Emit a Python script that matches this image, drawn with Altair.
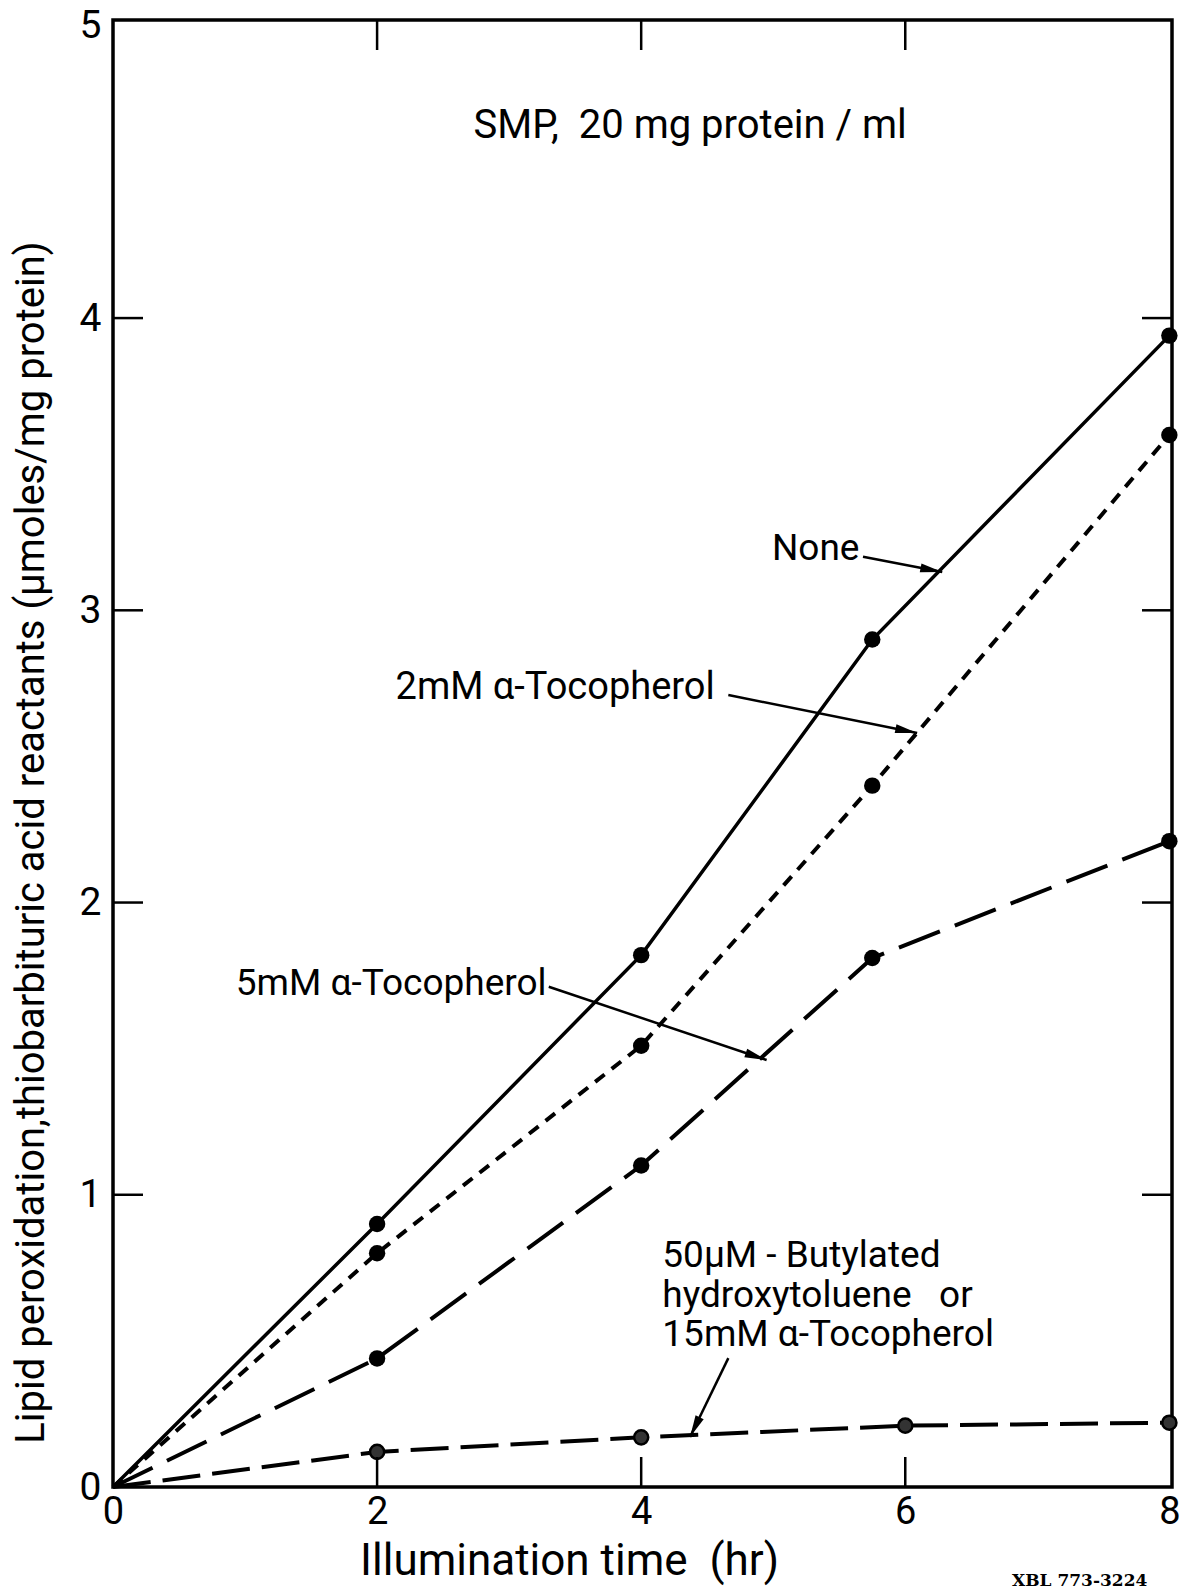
import math

import altair as alt
import pandas as pd

# Illumination times (hr) and TBA-reactant readings for each treatment
hours_main = [0, 2, 4, 5.75, 8]
hours_bht = [0, 2, 4, 6, 8]
none_vals = [0.0, 0.90, 1.82, 2.90, 3.94]
toco2_vals = [0.0, 0.80, 1.51, 2.40, 3.60]
toco5_vals = [0.0, 0.44, 1.10, 1.81, 2.21]
bht_vals = [0.0, 0.12, 0.17, 0.21, 0.22]

series_keys = ["none", "toco2", "toco5", "bht"]

x_tick_values = [0, 2, 4, 6, 8]
y_tick_values = [0, 1, 2, 3, 4, 5]
inner_x_ticks = [2, 4, 6]
inner_y_ticks = [1, 2, 3, 4]

# Annotation lines (left edge x, baseline y, in data units)
note_text = [
    "SMP,\u00a0\u00a020 mg protein\u00a0/\u00a0ml",
    "None",
    "2mM \u03b1-Tocopherol",
    "5mM \u03b1-Tocopherol",
    "50\u03bcM - Butylated",
    "hydroxytoluene\u00a0\u00a0\u00a0or",
    "15mM \u03b1-Tocopherol",
]
note_size = [40, 37, 38, 37, 37, 37, 37]
note_x = [2.73, 4.99, 2.14, 0.93, 4.16, 4.16, 4.16]
note_y = [4.617, 3.172, 2.697, 1.684, 0.753, 0.616, 0.483]

# Leader arrows from each label to its curve
arrow_x1 = [5.68, 4.66, 3.30, 4.66]
arrow_y1 = [3.183, 2.710, 1.712, 0.441]
arrow_x2 = [6.28, 6.09, 4.95, 4.37]
arrow_y2 = [3.131, 2.580, 1.461, 0.171]

FONT = "Roboto"
X_MAX = 8.02
Y_MAX = 5.02
W = 1059
H = 1467
PX_PER_HR = W / X_MAX
PX_PER_UNIT = H / Y_MAX
TICK_LEN = 30

rows = []
for key, hrs, vals in [
    ("none", hours_main, none_vals),
    ("toco2", hours_main, toco2_vals),
    ("toco5", hours_main, toco5_vals),
    ("bht", hours_bht, bht_vals),
]:
    for h, v in zip(hrs, vals):
        rows.append({"series": key, "hr": h, "val": v})
df = pd.DataFrame(rows)

notes = pd.DataFrame(
    {"label": note_text, "hr": note_x, "val": note_y, "fs": note_size}
)

angles = []
for x1, y1, x2, y2 in zip(arrow_x1, arrow_y1, arrow_x2, arrow_y2):
    sx = (x2 - x1) * PX_PER_HR
    sy = -(y2 - y1) * PX_PER_UNIT
    angles.append(math.degrees(math.atan2(sx, -sy)) % 360)
arrows = pd.DataFrame(
    {"hr": arrow_x1, "val": arrow_y1, "hr2": arrow_x2, "val2": arrow_y2, "ang": angles}
)

xt = pd.DataFrame({"hr": inner_x_ticks})
yt = pd.DataFrame({"val": inner_y_ticks})

x_scale = alt.Scale(domain=[0, X_MAX], nice=False, zero=False)
y_scale = alt.Scale(domain=[0, Y_MAX], nice=False, zero=False)

x_axis = alt.Axis(
    values=x_tick_values, format="d", tickSize=0, domain=False, grid=False,
    labelFont=FONT, labelFontSize=38, labelColor="black", labelPadding=6,
    labelFlush=False,
    title="Illumination time\u00a0\u00a0(hr)", titleFont=FONT, titleFontSize=44,
    titleFontWeight="normal", titleColor="black",
    titleX=456, titleY=87, titleAlign="center", titleBaseline="alphabetic",
)
y_axis = alt.Axis(
    values=y_tick_values, format="d", tickSize=0, domain=False, grid=False,
    labelFont=FONT, labelFontSize=39, labelColor="black", labelPadding=12,
    title="Lipid peroxidation,thiobarbituric acid reactants (\u03bcmoles/mg protein)",
    titleFont=FONT, titleFontSize=40, titleFontWeight="normal", titleColor="black",
    titleAngle=270, titleX=-70, titleY=822, titleAlign="center",
    titleBaseline="alphabetic",
)


def X(field="hr"):
    return alt.X(f"{field}:Q", scale=x_scale, axis=x_axis)


def Y(field="val"):
    return alt.Y(f"{field}:Q", scale=y_scale, axis=y_axis)


base = alt.Chart(df)

line_styles = {
    "none": dict(strokeWidth=3.5),
    "toco2": dict(strokeWidth=4, strokeDash=[12, 9]),
    "toco5": dict(strokeWidth=4, strokeDash=[44, 16]),
    "bht": dict(strokeWidth=4, strokeDash=[38, 12]),
}

layers = []
for key in series_keys:
    layers.append(
        base.transform_filter(alt.datum.series == key)
        .mark_line(color="black", **line_styles[key])
        .encode(x=X(), y=Y(), order="hr:Q")
    )

layers.append(
    base.transform_filter((alt.datum.series != "bht") & (alt.datum.hr > 0))
    .mark_circle(color="black", size=270, opacity=1)
    .encode(x=X(), y=Y())
)
layers.append(
    base.transform_filter((alt.datum.series == "bht") & (alt.datum.hr > 0))
    .mark_point(filled=True, fill="#333333", stroke="black", strokeWidth=2.5,
                size=200, opacity=1)
    .encode(x=X(), y=Y())
)

# inward tick marks on all four sides of the frame
layers.append(
    alt.Chart(xt).mark_rule(color="black", strokeWidth=2.5)
    .encode(x=X(), y=alt.value(H), y2=alt.value(H - TICK_LEN))
)
layers.append(
    alt.Chart(xt).mark_rule(color="black", strokeWidth=2.5)
    .encode(x=X(), y=alt.value(0), y2=alt.value(TICK_LEN))
)
layers.append(
    alt.Chart(yt).mark_rule(color="black", strokeWidth=2.5)
    .encode(y=Y(), x=alt.value(0), x2=alt.value(TICK_LEN))
)
layers.append(
    alt.Chart(yt).mark_rule(color="black", strokeWidth=2.5)
    .encode(y=Y(), x=alt.value(W), x2=alt.value(W - TICK_LEN))
)

# label arrows
layers.append(
    alt.Chart(arrows).mark_rule(color="black", strokeWidth=2.5)
    .encode(x=X(), y=Y(), x2="hr2:Q", y2="val2:Q")
)
layers.append(
    alt.Chart(arrows).mark_point(
        shape="M0,0L-0.45,2.2L0.45,2.2Z", filled=True, color="black",
        size=400, opacity=1,
    ).encode(x=X("hr2"), y=Y("val2"), angle=alt.Angle("ang:Q", scale=None))
)

layers.append(
    alt.Chart(notes).mark_text(
        align="left", baseline="alphabetic", font=FONT, color="black"
    ).encode(
        x=X(), y=Y(), text="label:N", size=alt.Size("fs:Q", scale=None, legend=None)
    )
)

layers.append(
    alt.Chart(pd.DataFrame({"label": ["XBL 773-3224"]})).mark_text(
        align="left", baseline="alphabetic", font="DejaVu Serif", fontSize=17,
        fontWeight="bold", color="black",
    ).encode(x=alt.value(899), y=alt.value(1566), text="label:N")
)

chart = (
    alt.layer(*layers)
    .properties(
        width=W,
        height=H,
        autosize=alt.AutoSizeParams(type="none"),
        padding={"left": 113, "top": 20, "right": 21, "bottom": 104},
        background="white",
    )
    .configure_view(stroke="black", strokeWidth=3.5)
)

chart.save("out.html", embed_options={"renderer": "svg", "actions": False})
